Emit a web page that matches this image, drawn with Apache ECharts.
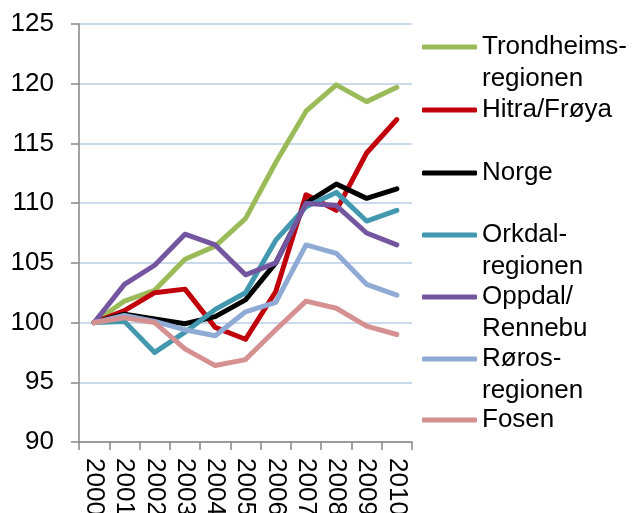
<!DOCTYPE html>
<html>
<head>
<meta charset="utf-8">
<script src="https://cdn.jsdelivr.net/npm/echarts@6/dist/echarts.min.js"></script>
<style>
  html, body { margin: 0; padding: 0; background: #fff; }
  #chart { width: 632px; height: 513px; }
</style>
</head>
<body>
<div id="chart"></div>
<script>
// years on the x axis
var years = ["2000", "2001", "2002", "2003", "2004", "2005", "2006", "2007", "2008", "2009", "2010"];

// index, 2000 = 100
var trondheim = [100, 101.8, 102.7, 105.3, 106.4, 108.7, 113.4, 117.7, 119.9, 118.5, 119.7];
var hitra     = [100, 101.0, 102.5, 102.8, 99.6, 98.6, 102.6, 110.7, 109.4, 114.2, 117.0];
var norge     = [100, 100.7, 100.3, 99.9, 100.5, 101.9, 105.0, 110.0, 111.6, 110.4, 111.2];
var orkdal    = [100, 100.1, 97.5, 99.2, 101.1, 102.5, 106.9, 109.7, 110.9, 108.5, 109.4];
var oppdal    = [100, 103.2, 104.8, 107.4, 106.5, 104.0, 105.0, 110.0, 109.8, 107.5, 106.5];
var roros     = [100, 100.6, 100.1, 99.4, 98.9, 100.9, 101.7, 106.5, 105.8, 103.2, 102.3];
var fosen     = [100, 100.4, 100.0, 97.8, 96.4, 96.9, 99.4, 101.8, 101.2, 99.7, 99.0];

var names  = ["Trondheims-\nregionen", "Hitra/Frøya", "Norge", "Orkdal-\nregionen", "Oppdal/\nRennebu", "Røros-\nregionen", "Fosen"];
var values = [trondheim, hitra, norge, orkdal, oppdal, roros, fosen];
var colors = ["#9BBB59", "#C0000A", "#000000", "#4198AF", "#7456A0", "#8EAAD5", "#D59191"];

// centre of each legend icon (px)
var legendY = [47, 110, 173, 235, 297, 359, 420];

var font = "'Liberation Sans', Arial, sans-serif";
var lh = 31.5;

// one legend per item so each sits on its own slot; wrapped names get an
// empty first line so the icon lines up with the first text line
var legends = names.map(function (n, i) {
  var twoLines = n.indexOf("\n") >= 0;
  return {
    left: 422,
    top: legendY[i] - (twoLines ? lh * 1.5 : lh / 2),
    padding: 0,
    orient: "vertical",
    itemWidth: 55,
    itemHeight: 5,
    icon: "roundRect",
    selectedMode: false,
    data: [n],
    formatter: function (name) {
      return name.indexOf("\n") >= 0 ? "\n" + name : name;
    },
    textStyle: { fontSize: 26, fontFamily: font, color: "#000", lineHeight: lh }
  };
});

var series = names.map(function (n, i) {
  return {
    name: n,
    type: "line",
    data: values[i],
    showSymbol: false,
    symbol: "none",
    smooth: false,
    color: colors[i],
    lineStyle: { width: 5, color: colors[i], cap: "round", join: "round" },
    animation: false
  };
});

var chart = echarts.init(document.getElementById("chart"));
chart.setOption({
  animation: false,
  grid: { left: 79, top: 24, right: 220, bottom: 71, containLabel: false, outerBoundsMode: "none" },
  legend: legends,
  xAxis: {
    type: "category",
    data: years,
    boundaryGap: true,
    axisLine: { lineStyle: { color: "#868686", width: 1.5 } },
    axisTick: { show: true, length: 8, lineStyle: { color: "#868686", width: 1.5 } },
    axisLabel: { rotate: -90, margin: 16, interval: 0, fontSize: 26, fontFamily: font, color: "#000" },
    splitLine: { show: false }
  },
  yAxis: {
    type: "value",
    min: 90,
    max: 125,
    interval: 5,
    axisLine: { show: true, lineStyle: { color: "#868686", width: 1.5 } },
    axisTick: { show: true, length: 8, lineStyle: { color: "#868686", width: 1.5 } },
    axisLabel: { margin: 25, fontSize: 26, fontFamily: font, color: "#000" },
    splitLine: { show: true, lineStyle: { color: "#B9CDE5", width: 1.5 } }
  },
  series: series
});
</script>
</body>
</html>
